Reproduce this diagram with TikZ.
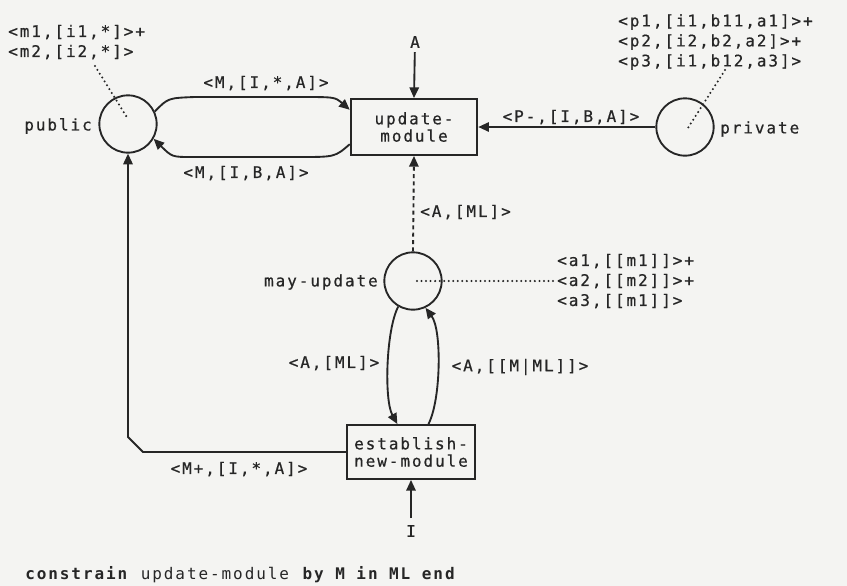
\documentclass[tikz,border=0pt]{standalone}
\usepackage{fontspec}
\newfontfamily\netfont[LetterSpace=12, FakeBold=0.6]{DejaVu Sans Mono}
\newfontfamily\specfont[LetterSpace=12]{DejaVu Sans Mono}
\usetikzlibrary{arrows.meta}

\definecolor{paper}{HTML}{F4F4F2}
\definecolor{ink}{HTML}{262626}

\tikzset{
  lbl/.style={text=ink, inner sep=0pt, font=\netfont\fontsize{12}{15}\selectfont},
  place/.style={circle, draw=ink, line width=1.4pt, minimum size=43pt, inner sep=0pt},
  trans/.style={rectangle, draw=ink, line width=1.4pt, minimum width=95pt, minimum height=42pt,
    inner sep=0pt, align=center, text=ink, font=\netfont\fontsize{12}{13}\selectfont},
  flow/.style={draw=ink, line width=1.4pt, -{Triangle[length=8pt,width=7pt]}},
  tok/.style={draw=ink, line width=1.7pt, line cap=round, dash pattern=on 0pt off 3.4pt},
}

\begin{document}
\begin{tikzpicture}[x=0.75pt, y=-0.75pt]
  \fill[paper] (0,0) rectangle (847,586);
  \useasboundingbox (0,0) rectangle (847,586);

  % places and transitions
  \node[place] (public) at (128,124) {};
  \node[place] (private) at (685,127) {};
  \node[place] (mayupd) at (413,281) {};
  \node[trans] (upd) at (414,127) {update-\\module};
  \node[trans, minimum width=96pt, minimum height=40.5pt] (estab) at (411,452) {establish-\\new-module};

  \node[lbl, anchor=east] at (92,126) {public};
  \node[lbl, anchor=west] at (720,129) {private};
  \node[lbl, anchor=east] at (378,282) {may-update};

  \node[lbl] (A) at (415,42) {A};
  \node[lbl] (I) at (411,531) {I};

  % markings
  \node[lbl, align=left, anchor=west] (pubtok) at (8,42) {<m1,[i1,*]>+\\<m2,[i2,*]>};
  \node[lbl, align=left, anchor=west] (privtok) at (618,42) {<p1,[i1,b11,a1]>+\\<p2,[i2,b2,a2]>+\\<p3,[i1,b12,a3]>};
  \node[lbl, align=left, anchor=west] (maytok) at (557,281) {<a1,[[m1]]>+\\<a2,[[m2]]>+\\<a3,[[m1]]>};
  \coordinate (pubfoot) at (95,66);
  \coordinate (pubin) at (128,119);
  \coordinate (privfoot) at (725,70);
  \coordinate (privin) at (686,131);
  \coordinate (mayin) at (417,281);
  \draw[tok] (pubfoot) -- (pubin);
  \draw[tok] (privfoot) -- (privin);
  \draw[tok] (mayin) -- (maytok.west);

  % arcs
  \draw[flow] (public.25) .. controls (168,98) .. (195,97) -- (300,97) .. controls (335,97) .. (upd.165);
  \draw[flow] (upd.195) .. controls (335,157) .. (300,157) -- (192,157) .. controls (172,157) .. (public.-30);
  \draw[flow] (private.west) -- (upd.east);
  \draw[flow, shorten <=3pt] (A) -- (upd.north);
  \draw[flow, dash pattern=on 3pt off 2.5pt] (mayupd.north) -- (upd.south);
  \draw[flow] (mayupd.240) .. controls (386,330) and (384,400) .. (estab.116);
  \draw[flow] (estab.58) .. controls (441,400) and (442,330) .. (mayupd.295);
  \draw[flow, shorten <=5pt] (I) -- (estab.south);
  \draw[flow] (estab.west) -- (143,452) -- (128,437) -- (public.south);

  \node[lbl] at (266,83) {<M,[I,*,A]>};
  \node[lbl] at (246,173) {<M,[I,B,A]>};
  \node[lbl] at (571,117) {<P-,[I,B,A]>};
  \node[lbl, anchor=west] at (420,212) {<A,[ML]>};
  \node[lbl] at (334,363) {<A,[ML]>};
  \node[lbl] at (520,367) {<A,[[M|ML]]>};
  \node[lbl] at (239,469) {<M+,[I,*,A]>};

  \node[lbl, anchor=west, font=\specfont\fontsize{12}{15}\selectfont] at (25,575)
    {\textbf{constrain} update-module \textbf{by M in ML end}};
\end{tikzpicture}
\end{document}
